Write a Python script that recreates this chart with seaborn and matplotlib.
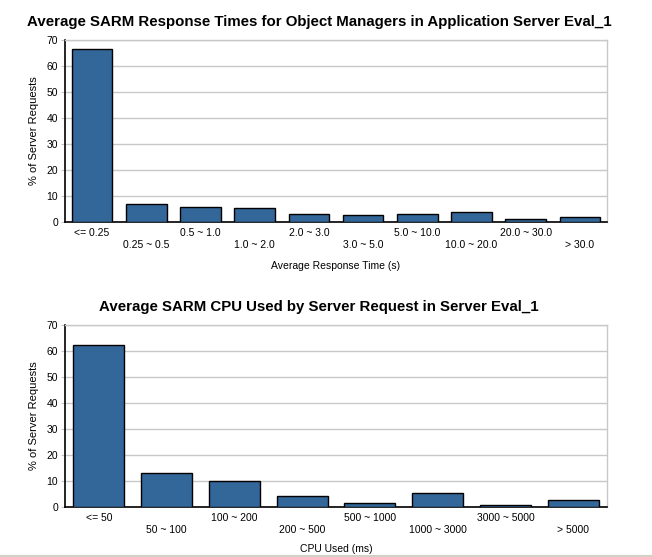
import matplotlib
matplotlib.use('Agg')
import matplotlib.pyplot as plt
import seaborn as sns
import pandas as pd
from matplotlib.lines import Line2D

# datos
resp_bins = ["<= 0.25", "0.25 ~ 0.5", "0.5 ~ 1.0", "1.0 ~ 2.0", "2.0 ~ 3.0",
             "3.0 ~ 5.0", "5.0 ~ 10.0", "10.0 ~ 20.0", "20.0 ~ 30.0", "> 30.0"]
resp_pct = [66.7, 6.9, 5.8, 5.4, 3.1, 2.7, 3.1, 3.9, 1.2, 1.9]

cpu_bins = ["<= 50", "50 ~ 100", "100 ~ 200", "200 ~ 500", "500 ~ 1000",
            "1000 ~ 3000", "3000 ~ 5000", "> 5000"]
cpu_pct = [62.4, 13.1, 10.0, 4.2, 1.5, 5.4, 0.8, 2.7]

y_ticks = [0, 10, 20, 30, 40, 50, 60, 70]

sns.set_style("white")
plt.rcParams['font.family'] = ['Liberation Sans', 'DejaVu Sans']
plt.rcParams['text.color'] = 'black'
plt.rcParams['axes.labelcolor'] = 'black'
plt.rcParams['xtick.color'] = 'black'
plt.rcParams['ytick.color'] = 'black'

BAR = "#336699"
GRID = "#c8c8c8"

fig = plt.figure(figsize=(6.52, 5.57), dpi=100)


def draw(ax, cats, vals, title, xlabel, xpad):
    df = pd.DataFrame({"cat": cats, "pct": vals})
    sns.barplot(data=df, x="cat", y="pct", color=BAR, edgecolor="black",
                linewidth=1, width=0.75, saturation=1, ax=ax, zorder=3)
    ax.set_ylim(0, 70)
    ax.set_yticks(y_ticks)
    ax.yaxis.grid(True, color=GRID, linewidth=1, zorder=0)
    ax.set_axisbelow(True)
    ax.set_xlim(-0.5, len(cats) - 0.5)
    # etiquetas alternadas en dos filas
    labs = [c if i % 2 == 0 else "\n" + c for i, c in enumerate(cats)]
    ax.set_xticks(range(len(cats)))
    ax.set_xticklabels(labs, fontsize=7.5, linespacing=1.25)
    ax.tick_params(axis='x', length=0, pad=4)
    ax.tick_params(axis='y', length=3, color=GRID, labelsize=7.5, pad=2, left=True)
    for s in ['left', 'bottom']:
        ax.spines[s].set_color('black')
        ax.spines[s].set_linewidth(1.2)
    for s in ['top', 'right']:
        ax.spines[s].set_color(GRID)
        ax.spines[s].set_linewidth(1)
    # el titulo va centrado un poco a la izquierda del eje
    ax.set_title(title, fontsize=10.8, fontweight='bold', pad=10, x=0.469)
    ax.set_xlabel(xlabel, fontsize=7.5, labelpad=xpad)
    ax.set_ylabel("% of Server Requests", fontsize=8, labelpad=5)


ax1 = fig.add_axes([0.0997, 0.6014, 0.8313, 0.3268])
draw(ax1, resp_bins, resp_pct,
     "Average SARM Response Times for Object Managers in Application Server Eval_1",
     "Average Response Time (s)", 8)

ax2 = fig.add_axes([0.0997, 0.0898, 0.8313, 0.3268])
draw(ax2, cpu_bins, cpu_pct,
     "Average SARM CPU Used by Server Request in Server Eval_1",
     "CPU Used (ms)", 6.5)

# linea gris al pie
fig.add_artist(Line2D([0, 1], [1 - 555.5 / 557, 1 - 555.5 / 557], color="#d4d0c8",
                      linewidth=1.5, transform=fig.transFigure))

plt.savefig("out.png", dpi=100)
plt.close()
